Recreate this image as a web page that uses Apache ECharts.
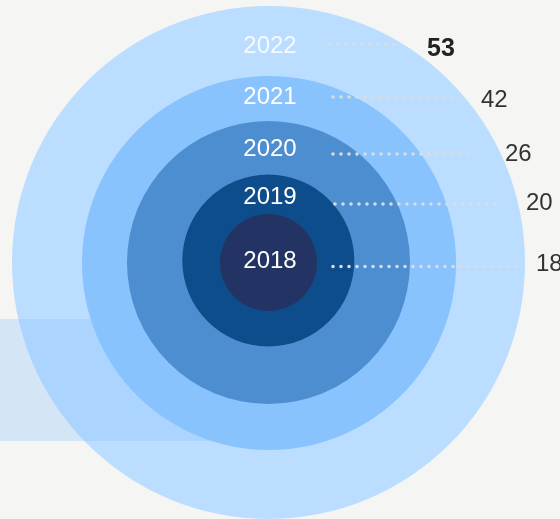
<!DOCTYPE html>
<html>
<head>
<meta charset="utf-8">
<script src="https://cdn.jsdelivr.net/npm/echarts@6/dist/echarts.min.js"></script>
<style>
html,body{margin:0;padding:0;background:#f5f5f3;}
#chart{width:560px;height:519px;}
</style>
</head>
<body>
<div id="chart"></div>
<script>
// ---- data ----
var years = ['2018', '2019', '2020', '2021', '2022'];
var values = [18, 20, 26, 42, 53];
var highlightYear = '2022';

// ---- styles / layout (not data) ----
var ringColors = ['#233464', '#0e4d8b', '#4c8ecf', '#89c3fe', '#bbddff'];
var ringRadius = [48.5, 86, 141.5, 187, 256.5];
var ringCenter = [[268.5, 262.5], [268.3, 260.5], [268.5, 262.5], [269, 263], [268.5, 262.5]];
var yearLabelY = [261, 197, 149, 97, 46];
var leaderY = [266.5, 204, 154, 97, 44.5];
var leaderX1 = [333, 335, 333, 333, 330];
var leaderX2 = [525, 497, 470, 457, 397];
var valueLabelX = [536, 526, 505, 481, 427];
var valueLabelY = [264, 203, 154, 100, 49];
var FONT = '"Liberation Sans", Arial, Helvetica, sans-serif';

var chart = echarts.init(document.getElementById('chart'), null, {renderer: 'canvas'});

var series = [];
for (var i = years.length - 1; i >= 0; i--) {
  series.push({
    type: 'pie',
    silent: true,
    animation: false,
    z: (i === years.length - 1) ? 1 : 3,
    center: ringCenter[i],
    radius: [0, ringRadius[i]],
    label: {show: false},
    labelLine: {show: false},
    itemStyle: {color: ringColors[i], borderWidth: 0},
    data: [{name: years[i], value: values[i]}]
  });
}

var graphics = [{
  type: 'rect',
  z: 2,
  silent: true,
  shape: {x: 0, y: 319, width: 230, height: 122},
  style: {fill: 'rgba(137,195,255,0.3)'}
}];

years.forEach(function (y, i) {
  var hi = (y === highlightYear);
  graphics.push({
    type: 'line',
    z: 10,
    silent: true,
    shape: {x1: leaderX1[i], y1: leaderY[i], x2: leaderX2[i], y2: leaderY[i]},
    style: {stroke: '#dcdcdc', lineWidth: 3.6, lineDash: [0, 8], lineCap: 'round'}
  });
  graphics.push({
    type: 'text',
    z: 11,
    silent: true,
    x: 270,
    y: yearLabelY[i],
    style: {
      text: y,
      fill: hi ? 'rgba(255,255,255,0.85)' : '#ffffff',
      fontFamily: FONT,
      fontSize: 24,
      align: 'center',
      verticalAlign: 'middle'
    }
  });
  graphics.push({
    type: 'text',
    z: 11,
    silent: true,
    x: valueLabelX[i],
    y: valueLabelY[i],
    style: {
      text: String(values[i]),
      fill: hi ? '#222222' : '#333333',
      fontFamily: FONT,
      fontWeight: hi ? 'bold' : 'normal',
      fontSize: hi ? 25 : 24,
      align: 'left',
      verticalAlign: 'middle'
    }
  });
});

chart.setOption({
  backgroundColor: '#f5f5f3',
  animation: false,
  series: series,
  graphic: {elements: graphics}
});
</script>
</body>
</html>
